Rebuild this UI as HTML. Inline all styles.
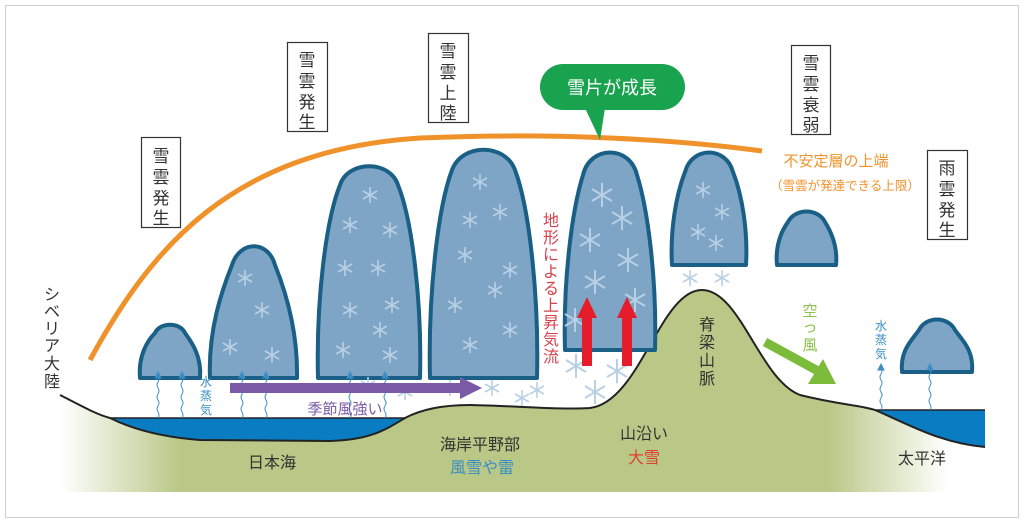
<!DOCTYPE html>
<html><head><meta charset="utf-8"><style>
html,body{margin:0;padding:0;background:#fff}
svg{display:block}
text{font-family:"Liberation Sans","Noto Sans CJK JP",sans-serif}
</style></head><body>
<svg width="1024" height="524" viewBox="0 0 1024 524" xmlns="http://www.w3.org/2000/svg">
<defs>
<linearGradient id="lg" x1="0" x2="1" y1="0" y2="0">
<stop offset="0" stop-color="#fff"/><stop offset="0.06" stop-color="#dfe5c8"/><stop offset="0.13" stop-color="#b9c886"/>
<stop offset="0.83" stop-color="#b9c886"/><stop offset="0.96" stop-color="#fff"/></linearGradient>
<g id="sf" stroke="#b9d0e4" stroke-width="1.6" fill="none"><path d="M0,-8V8M-7,-4L7,4M-7,4L7,-4"/></g>
<g id="sfb" stroke="#b9d0e4" stroke-width="2" fill="none"><path d="M0,-12V12M-10,-6L10,6M-10,6L10,-6"/></g>
<g id="wv" stroke="#3a8fc4" stroke-width="1" fill="none"><path d="M0,0 q2,-3 0,-6 q-2,-3 0,-6 q2,-3 0,-6 q-2,-3 0,-6 q2,-3 0,-6 q-2,-3 0,-6 q2,-3 0,-6"/><path d="M-3,-40 L0,-46 L3,-40Z" fill="#3a8fc4"/></g>
</defs>
<rect x="5.5" y="5.5" width="1013" height="512" fill="#fff" stroke="#cfcfcf"/>
<!-- land -->
<path d="M60,395 C80,405 95,414 110,418 L405,418 C420,410 440,405 470,405 C520,406 560,410 590,408 C640,402 660,290 702,290 C740,290 760,380 800,395 C840,405 860,405 875,410 L985,410 L985,492 L60,492Z" fill="url(#lg)"/>
<path d="M110,418 L405,418 C385,430 370,440 330,441 L200,440 C160,437 130,428 110,418Z" fill="#0a7dc2"/>
<path d="M875,410 L985,410 L985,447 C940,443 910,425 875,410Z" fill="#0a7dc2"/>
<path d="M60,395 C80,405 95,414 110,418 C130,428 160,437 200,440 L330,441 C370,440 385,430 405,418 C420,410 440,405 470,405 C520,406 560,410 590,408 C640,402 660,290 702,290 C740,290 760,380 800,395 C840,405 860,405 875,410 C910,425 940,443 985,447" fill="none" stroke="#222" stroke-width="2"/>
<path d="M110,418 L405,418 M875,410 L985,410" stroke="#222" stroke-width="1.5"/>
<!-- orange arc -->
<path d="M90,360 C150,250 230,150 420,138 C560,132 680,140 762,151" fill="none" stroke="#f0922a" stroke-width="5"/>
<!-- clouds -->
<g fill="#7ea5c6" stroke="#1a5f86" stroke-width="4" stroke-linejoin="round">
<path d="M140,378 L200,378 C202,355 190,340 185,333 C180,322 160,322 155,333 C148,340 138,355 140,378Z"/>
<path d="M210,378 L297,378 C298,330 285,290 275,265 C268,240 240,240 232,265 C222,290 208,330 210,378Z"/>
<path d="M318,378 L420,378 C422,300 412,220 398,185 C390,160 348,160 340,185 C326,220 316,300 318,378Z"/>
<path d="M430,378 L537,378 C539,300 530,210 515,170 C505,143 462,143 452,170 C437,210 428,300 430,378Z"/>
<path d="M565,350 L655,350 C657,280 648,210 637,175 C630,145 590,145 583,175 C572,210 563,280 565,350Z"/>
<path d="M672,265 L746,265 C748,230 742,195 733,172 C726,146 692,146 685,172 C676,195 670,230 672,265Z"/>
<path d="M777,265 L836,265 C838,245 830,230 825,222 C818,208 795,208 788,222 C782,230 775,245 777,265Z"/>
<path d="M902,372 L972,372 C974,350 962,340 955,330 C948,316 926,316 919,330 C912,340 900,350 902,372Z"/>
</g>
<!-- snowflakes -->
<use href="#sf" x="245" y="278"/><use href="#sf" x="262" y="310"/><use href="#sf" x="230" y="347"/><use href="#sf" x="272" y="355"/>
<use href="#sf" x="345" y="268"/><use href="#sf" x="378" y="268"/><use href="#sf" x="350" y="310"/><use href="#sf" x="392" y="305"/><use href="#sf" x="380" y="330"/><use href="#sf" x="343" y="350"/><use href="#sf" x="390" y="355"/><use href="#sf" x="370" y="195"/><use href="#sf" x="350" y="225"/><use href="#sf" x="390" y="230"/>
<use href="#sf" x="480" y="182"/><use href="#sf" x="500" y="212"/><use href="#sf" x="465" y="255"/><use href="#sf" x="510" y="270"/><use href="#sf" x="455" y="305"/><use href="#sf" x="495" y="290"/><use href="#sf" x="470" y="345"/><use href="#sf" x="510" y="330"/><use href="#sf" x="470" y="220"/>
<use href="#sfb" x="602" y="195"/><use href="#sfb" x="622" y="218"/><use href="#sfb" x="590" y="240"/><use href="#sfb" x="628" y="260"/><use href="#sfb" x="595" y="282"/><use href="#sfb" x="635" y="300"/><use href="#sfb" x="575" y="320"/>
<use href="#sf" x="703" y="190"/><use href="#sf" x="722" y="212"/><use href="#sf" x="698" y="232"/><use href="#sf" x="716" y="243"/>
<use href="#sf" x="690" y="278"/><use href="#sf" x="722" y="278"/>
<use href="#sf" x="368" y="385"/><use href="#sf" x="405" y="392"/><use href="#sf" x="450" y="388"/><use href="#sf" x="492" y="388"/><use href="#sf" x="522" y="398"/>
<use href="#sfb" x="576" y="366"/><use href="#sfb" x="595" y="392"/><use href="#sfb" x="617" y="371"/><use href="#sf" x="537" y="390"/>
<!-- vapor -->
<use href="#wv" x="158" y="418"/><use href="#wv" x="182" y="418"/><use href="#wv" x="242" y="418"/><use href="#wv" x="266" y="418"/>
<use href="#wv" x="350" y="418"/><use href="#wv" x="385" y="418"/><use href="#wv" x="881" y="410"/><use href="#wv" x="930" y="410"/>
<!-- purple arrow -->
<path d="M230,383 L460,383 L460,377 L482,388 L460,399 L460,393 L230,393Z" fill="#7b5aa8"/>
<text x="345" y="414" font-size="15" fill="#7b5aa8" text-anchor="middle">季節風強い</text>
<!-- red arrows -->
<path d="M582,366 L582,318 L577,318 L587,297 L597,318 L592,318 L592,366Z" fill="#e51d2a"/>
<path d="M622,366 L622,318 L617,318 L627,297 L637,318 L632,318 L632,366Z" fill="#e51d2a"/>
<!-- green arrow -->
<path d="M765,342 L818,371" stroke="#7cbc3a" stroke-width="9"/>
<path d="M808,384 L836,384 L823,359Z" fill="#7cbc3a"/>
<!-- boxes -->
<g fill="#fff" stroke="#333" stroke-width="1.2">
<rect x="141.5" y="137.5" width="39" height="90"/><rect x="287.5" y="42.5" width="40" height="89"/>
<rect x="428.5" y="33.5" width="40" height="89"/><rect x="791.5" y="45.5" width="39" height="89"/>
<rect x="927.5" y="150.5" width="40" height="89"/></g>
<g font-size="17" fill="#333" text-anchor="middle">
<text x="161" y="162">雪</text><text x="161" y="183">雲</text><text x="161" y="204">発</text><text x="161" y="224">生</text>
<text x="307" y="66">雪</text><text x="307" y="87">雲</text><text x="307" y="108">発</text><text x="307" y="128">生</text>
<text x="448" y="57">雪</text><text x="448" y="78">雲</text><text x="448" y="99">上</text><text x="448" y="119">陸</text>
<text x="811" y="69">雪</text><text x="811" y="90">雲</text><text x="811" y="111">衰</text><text x="811" y="131">弱</text>
<text x="947" y="174">雨</text><text x="947" y="195">雲</text><text x="947" y="216">発</text><text x="947" y="236">生</text>
</g>
<!-- bubble -->
<path d="M585,108 L600,140 L605,108Z" fill="#1aa34f"/>
<rect x="540" y="64" width="145" height="46" rx="23" fill="#1aa34f"/>
<text x="612" y="94" font-size="18" fill="#fff" text-anchor="middle">雪片が成長</text>
<text x="836" y="166" font-size="15" fill="#f0922a" text-anchor="middle">不安定層の上端</text>
<text x="845" y="190" font-size="12.5" fill="#f0922a" text-anchor="middle">（雪雲が発達できる上限）</text>
<!-- red vertical -->
<g font-size="16" fill="#d6404a" text-anchor="middle">
<text x="551" y="226">地</text><text x="551" y="243">形</text><text x="551" y="260">に</text><text x="551" y="277">よ</text><text x="551" y="294">る</text><text x="551" y="311">上</text><text x="551" y="328">昇</text><text x="551" y="345">気</text><text x="551" y="362">流</text></g>
<g font-size="16" fill="#333" text-anchor="middle">
<text x="52" y="300">シ</text><text x="52" y="317">ベ</text><text x="52" y="334">リ</text><text x="52" y="351">ア</text><text x="52" y="369">大</text><text x="52" y="387">陸</text>
<text x="707" y="330">脊</text><text x="707" y="348">梁</text><text x="707" y="366">山</text><text x="707" y="384">脈</text></g>
<g font-size="12" fill="#3a8fc4" text-anchor="middle">
<text x="206" y="386">水</text><text x="206" y="400">蒸</text><text x="206" y="414">気</text>
<text x="881" y="330">水</text><text x="881" y="344">蒸</text><text x="881" y="358">気</text></g>
<g font-size="15" fill="#8cc04a" text-anchor="middle"><text x="810" y="316">空</text><text x="810" y="332">っ</text><text x="810" y="350">風</text></g>
<g font-size="16" text-anchor="middle">
<text x="272" y="468" fill="#333">日本海</text>
<text x="480" y="450" fill="#333">海岸平野部</text>
<text x="482" y="473" fill="#3a8fc4">風雪や雷</text>
<text x="644" y="439" fill="#333">山沿い</text>
<text x="644" y="463" fill="#e0412e">大雪</text>
<text x="922" y="464" fill="#333">太平洋</text></g>
</svg>
</body></html>
